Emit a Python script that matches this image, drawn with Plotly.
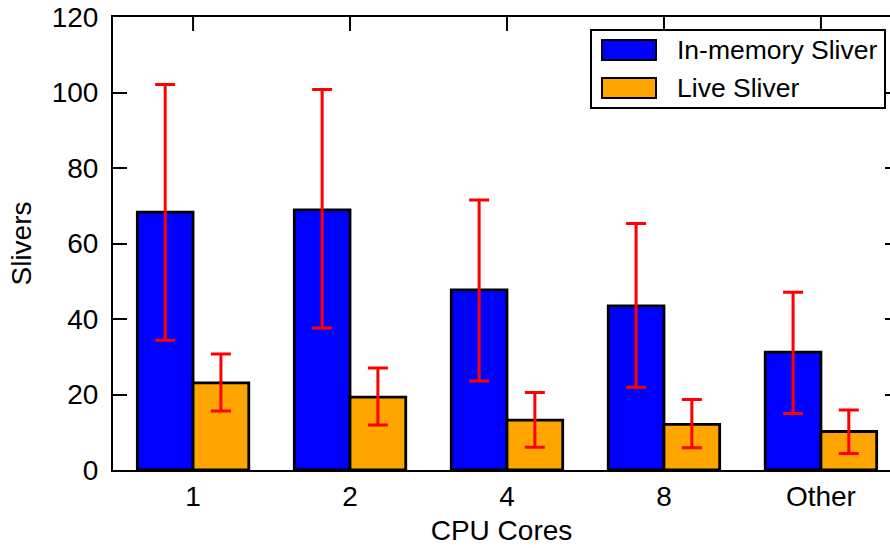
import plotly.graph_objects as go

categories = ["1", "2", "4", "8", "Other"]
inmem = [68.3, 68.9, 47.7, 43.5, 31.2]
inmem_hi = [102.1, 100.8, 71.5, 65.3, 47.1]
inmem_lo = [34.4, 37.6, 23.6, 21.9, 15.0]
live = [23.1, 19.3, 13.2, 12.1, 10.2]
live_hi = [30.7, 27.0, 20.5, 18.7, 15.9]
live_lo = [15.6, 11.9, 6.0, 5.9, 4.4]
series_names = ["In-memory Sliver", "Live Sliver"]
yticks = [0, 20, 40, 60, 80, 100, 120]

W, H = 890, 548
L, R, T, B = 113, 0, 17, 78
pw, ph = W - L - R, H - T - B
FONT = "Liberation Sans, Arial, Helvetica, sans-serif"
FS = 28
XR = [-0.51, 4.44]
YR = [0, 120]

def err(vals, hi, lo):
    return dict(type="data", symmetric=False,
                array=[h - v for h, v in zip(hi, vals)],
                arrayminus=[v - l for v, l in zip(vals, lo)],
                color="#ff0000", thickness=3, width=10)

fig = go.Figure()
fig.add_trace(go.Bar(x=categories, y=inmem, name=series_names[0],
                     marker=dict(color="#0000ff", line=dict(color="black", width=2.8)),
                     error_y=err(inmem, inmem_hi, inmem_lo), showlegend=False))
fig.add_trace(go.Bar(x=categories, y=live, name=series_names[1],
                     marker=dict(color="#ffa500", line=dict(color="black", width=2.8)),
                     error_y=err(live, live_hi, live_lo), showlegend=False))
# invisible trace to carry the right-side ticks
fig.add_trace(go.Scatter(x=[categories[0]], y=[0], yaxis="y2", mode="markers",
                         marker=dict(opacity=0), showlegend=False, hoverinfo="skip"))

def px2x(p):
    return (p - L) / pw

def px2y(p):
    return (H - B - p) / ph

def cat2paper(i):
    return (i - XR[0]) / (XR[1] - XR[0])

shapes = []
# inward tick marks hanging from the top frame at the category positions
for i, c in enumerate(categories):
    xp = cat2paper(i)
    shapes.append(dict(type="line", xref="paper", yref="paper", x0=xp, x1=xp,
                       y0=1.0, y1=1.0 - 14.0 / ph, layer="above",
                       line=dict(color="black", width=2)))

# custom legend
shapes.append(dict(type="rect", xref="paper", yref="paper",
                   x0=px2x(591), x1=px2x(885), y0=px2y(108), y1=px2y(30),
                   line=dict(color="black", width=2), fillcolor="white", layer="above"))
annotations = []
for i, (nm, col) in enumerate(zip(series_names, ["#0000ff", "#ffa500"])):
    cy = 50 + i * 38
    shapes.append(dict(type="rect", xref="paper", yref="paper",
                       x0=px2x(602), x1=px2x(656), y0=px2y(cy + 10), y1=px2y(cy - 10),
                       line=dict(color="black", width=2), fillcolor=col, layer="above"))
    annotations.append(dict(xref="paper", yref="paper", x=px2x(675), y=px2y(cy),
                            xanchor="left", yanchor="middle", text=nm, showarrow=False,
                            font=dict(family=FONT, size=26.5, color="black")))

fig.update_layout(
    width=W, height=H,
    margin=dict(l=L, r=R, t=T, b=B, pad=0),
    paper_bgcolor="white", plot_bgcolor="white",
    barmode="group", bargap=0.29, bargroupgap=0,
    font=dict(family=FONT, size=FS, color="black"),
    xaxis=dict(type="category", range=XR, showline=True, linecolor="black",
               linewidth=2, mirror=True, ticks="inside", ticklen=14, tickwidth=2,
               tickcolor="black", showgrid=False, ticklabelstandoff=0,
               title=dict(text="CPU Cores", standoff=10, font=dict(size=FS))),
    yaxis=dict(range=YR, tickvals=yticks, showline=True, linecolor="black",
               linewidth=2, mirror=False, ticks="inside", ticklen=14, tickwidth=2,
               tickcolor="black", showgrid=False, zeroline=False, ticklabelstandoff=7,
               title=dict(text="Slivers", standoff=12, font=dict(size=FS))),
    yaxis2=dict(range=YR, tickvals=yticks, overlaying="y", side="right",
                showline=False, ticks="inside", ticklen=5, tickwidth=2, tickcolor="black",
                showticklabels=False, showgrid=False, zeroline=False),
    shapes=shapes, annotations=annotations,
)
fig.write_html("out.html")
